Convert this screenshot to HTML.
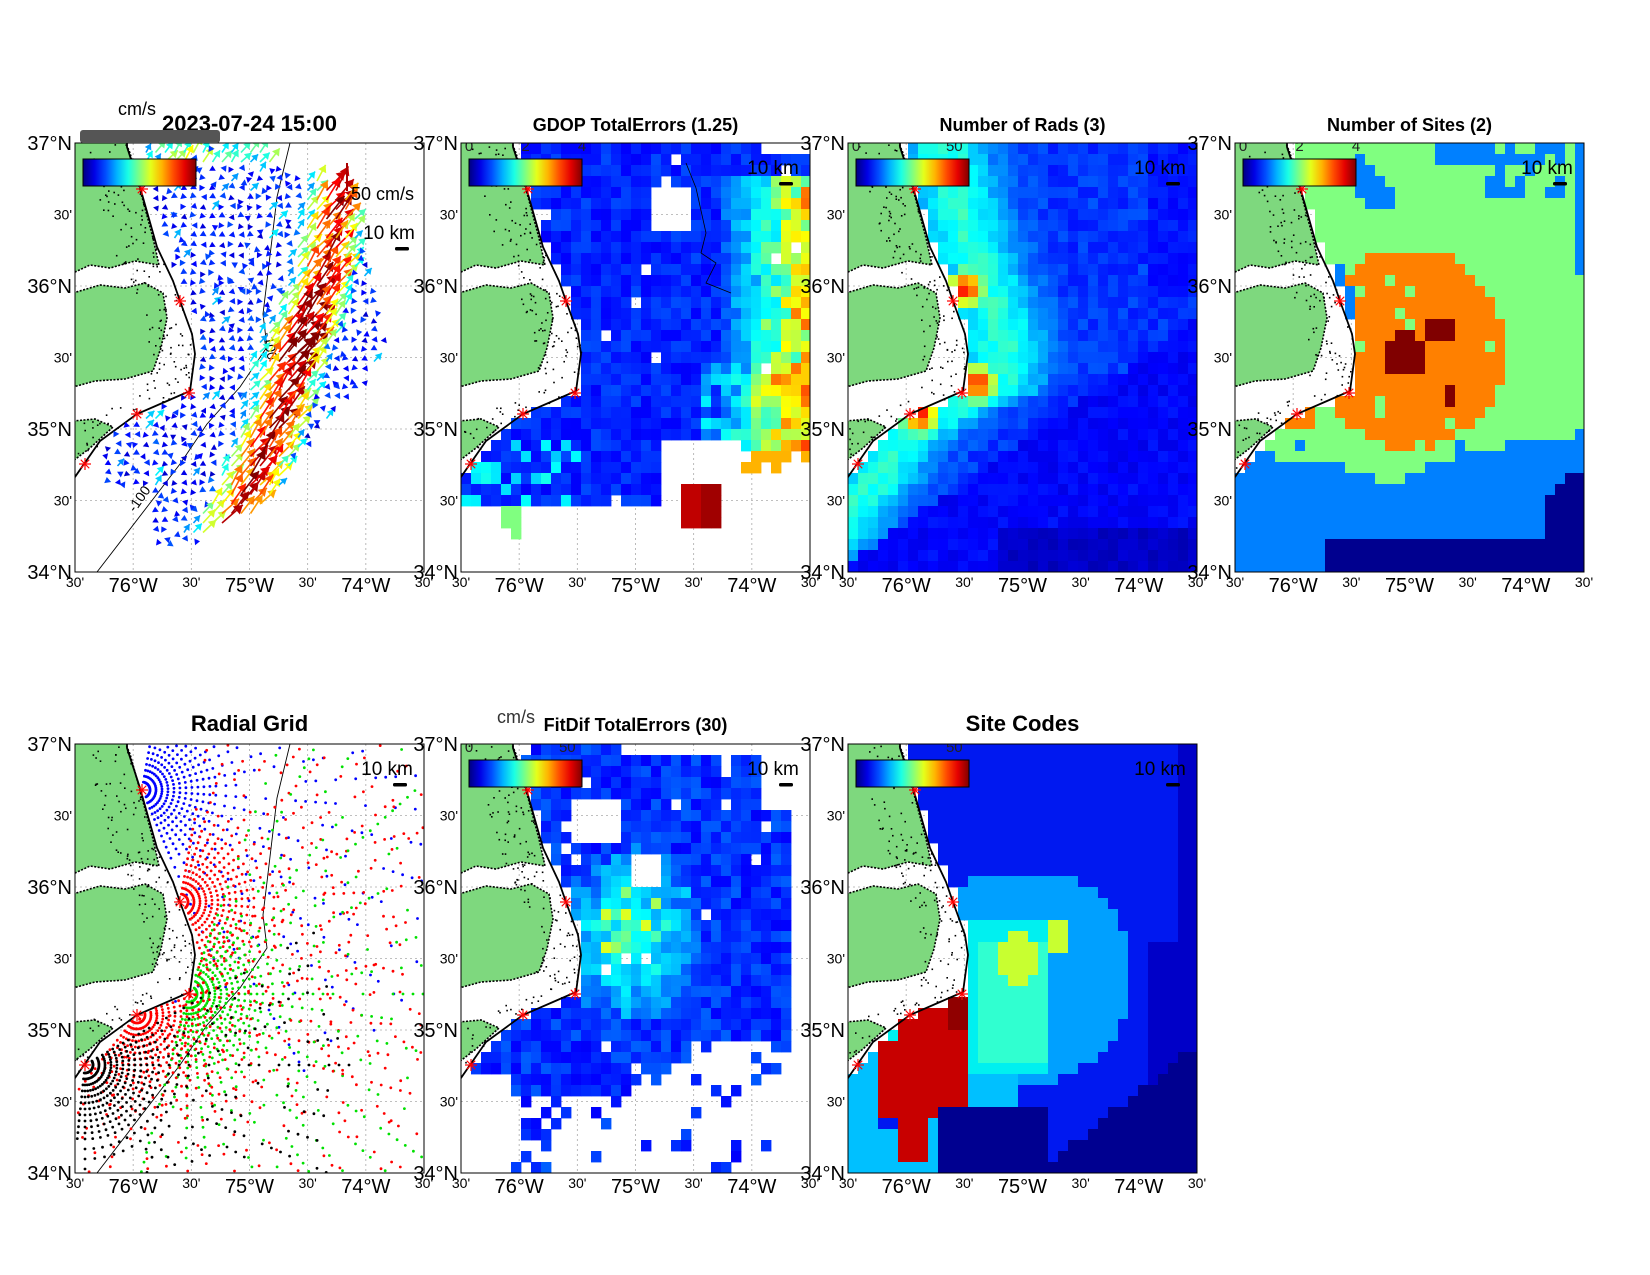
<!DOCTYPE html>
<html><head><meta charset="utf-8">
<style>
body{margin:0;background:#fff;}
svg{display:block;font-family:"Liberation Sans",sans-serif;}
</style></head>
<body>
<svg id="s" width="1650" height="1275" viewBox="0 0 1650 1275" xmlns="http://www.w3.org/2000/svg">
<rect width="1650" height="1275" fill="#fff"/>
<g id="root"></g>
</svg>
<script>
var W=349,H=429;
var seed=7;function rnd(){seed=(seed*16807)%2147483647;return seed/2147483647;}
function cl(v){return v<0?0:v>1?1:v;}
function jet(t){t=cl(t);var r=cl(1.5-Math.abs(4*t-3)),g=cl(1.5-Math.abs(4*t-2)),b=cl(1.5-Math.abs(4*t-1));
return 'rgb('+Math.round(r*255)+','+Math.round(g*255)+','+Math.round(b*255)+')';}
var coast=[[52,-10],[52,4],[65,44],[82,104],[98,138],[105,158],[117,191],[120,211],[115,248],[92,258],[62,271],[25,298],[0,334],[-40,390],[-80,450]];
function interp(pts,y){for(var i=0;i<pts.length-1;i++){var a=pts[i],b=pts[i+1];if(y>=a[1]&&y<=b[1]){return a[0]+(b[0]-a[0])*(y-a[1])/(b[1]-a[1]);}}return y<pts[0][1]?pts[0][0]:pts[pts.length-1][0];}
function cx(y){return interp(coast,y);}
function interpY(pts,x){for(var i=0;i<pts.length-1;i++){var a=pts[i],b=pts[i+1];if(x>=a[0]&&x<=b[0]){return a[1]+(b[1]-a[1])*(x-a[0])/(b[0]-a[0]);}}return x<pts[0][0]?pts[0][1]:pts[pts.length-1][1];}
var sites=[[67,46],[105,158],[114,250],[62,271],[10,321]];
var bathy=[[215,0],[202,54],[192,138],[188,171],[192,204],[165,244],[132,281],[105,321],[72,364],[22,429]];
function pl(p){return p.map(function(q){return q[0]+','+q[1];}).join(' ');}
function land(){
 var s='';
 var A=[[-2,-2],[50,-2],[55,10],[66,50],[78,95],[84,122],[60,118],[35,125],[15,122],[-2,130]];
 var B=[[-2,150],[25,142],[50,145],[70,140],[88,150],[92,175],[86,205],[78,228],[50,236],[20,238],[-2,244]];
 var C=[[-2,278],[20,276],[38,284],[15,305],[-2,318]];
 [A,B,C].forEach(function(P){s+='<polygon points="'+pl(P)+'" fill="#7ed87e" stroke="#000" stroke-width="1.6" stroke-dasharray="2 1.5"/>';});
 for(var i=0;i<180;i++){var y=rnd()*330,x=cx(y)-rnd()*45;if(x>0)s+='<rect x="'+x.toFixed(1)+'" y="'+y.toFixed(1)+'" width="1.6" height="1.6" fill="#000"/>';}
 s+='<polyline points="'+pl(coast)+'" fill="none" stroke="#000" stroke-width="1.8"/>';
 return s;
}
function star(x,y){var s='';for(var a=0;a<4;a++){var t=a*Math.PI/4;s+='<line x1="'+(x-6*Math.cos(t))+'" y1="'+(y-6*Math.sin(t))+'" x2="'+(x+6*Math.cos(t))+'" y2="'+(y+6*Math.sin(t))+'" stroke="#f00" stroke-width="1.2"/>';}return s;}
function sitesSvg(){return sites.map(function(p){return star(p[0],p[1]);}).join('');}
function grid(){var s='';for(var i=1;i<6;i++){var x=i*W/6;s+='<line x1="'+x+'" y1="0" x2="'+x+'" y2="'+H+'" stroke="#aaa" stroke-width="0.8" stroke-dasharray="2 3"/>';}
 for(var j=1;j<6;j++){var y=j*H/6;s+='<line x1="0" y1="'+y+'" x2="'+W+'" y2="'+y+'" stroke="#aaa" stroke-width="0.8" stroke-dasharray="2 3"/>';}return s;}
var cbid=0;
function cbar(labels){cbid++;var s='<defs><linearGradient id="g'+cbid+'">';for(var i=0;i<=10;i++)s+='<stop offset="'+(i/10)+'" stop-color="'+jet(i/10)+'"/>';
 s+='</linearGradient></defs><rect x="8" y="16" width="113" height="27" fill="url(#g'+cbid+')" stroke="#000" stroke-width="1"/>';
 (labels||[]).forEach(function(l){s+='<text x="'+(8+l[0]*113)+'" y="8" font-size="15" text-anchor="middle" fill="#222">'+l[1]+'</text>';});return s;}
function km(x,y){return '<text x="'+x+'" y="'+y+'" font-size="19" text-anchor="middle">10 km</text><rect x="'+(x+6)+'" y="'+(y+8)+'" width="14" height="3.5" rx="1.5" fill="#000"/>';}
function heat(fn){var s='';for(var i=0;i<35;i++)for(var j=0;j<39;j++){var x=i*10+5,y=j*11+5;var c=fn(x,y,i,j);if(c)s+='<rect x="'+(i*10)+'" y="'+(j*11)+'" width="10.4" height="11.4" fill="'+c+'"/>';}return s;}
function ocean(x,y){return x>cx(y)+4;}
function dseg(px,py,pts){var best=1e9;for(var i=0;i<pts.length-1;i++){var a=pts[i],b=pts[i+1];var dx=b[0]-a[0],dy=b[1]-a[1];var t=cl(((px-a[0])*dx+(py-a[1])*dy)/(dx*dx+dy*dy));var qx=a[0]+t*dx-px,qy=a[1]+t*dy-py;var d=Math.sqrt(qx*qx+qy*qy);if(d<best)best=d;}return best;}
function axes(L,T,title,tsize,ty){
 var s='';var lat=['37°N',"30'",'36°N',"30'",'35°N',"30'",'34°N'];
 for(var j=0;j<7;j++){var y=T+j*H/6;var big=lat[j].indexOf('N')>0;s+='<text x="'+(L-3)+'" y="'+(y+(big?7:5))+'" font-size="'+(big?20:14)+'" text-anchor="end">'+lat[j]+'</text>';}
 var lon=["30'",'76°W',"30'",'75°W',"30'",'74°W',"30'"];
 for(var i=0;i<7;i++){var x=L+i*W/6;var big=lon[i].indexOf('W')>0;s+='<text x="'+x+'" y="'+(T+H+(big?20:15))+'" font-size="'+(big?20:14)+'" text-anchor="middle">'+lon[i]+'</text>';}
 s+='<text x="'+(L+W/2)+'" y="'+ty+'" font-size="'+tsize+'" font-weight="bold" text-anchor="middle">'+title+'</text>';
 return s;}
var out='';
function panel(L,T,inner,title,tsize,ty){
 cbid++;var id='c'+cbid;
 out+='<clipPath id="'+id+'"><rect x="0" y="0" width="'+W+'" height="'+H+'"/></clipPath>';
 out+='<g transform="translate('+L+','+T+')"><g clip-path="url(#'+id+')">'+inner+'</g><rect x="0" y="0" width="'+W+'" height="'+H+'" fill="none" stroke="#000" stroke-width="1"/></g>';
 out+=axes(L,T,title,tsize,ty);
}
var cols=[75,461,848,1235],rows=[143,744];
// Panel 1 arrows
(function(){var s='';var rb=[[0,175],[20,200],[50,270],[100,290],[150,300],[200,310],[240,290],[280,250],[330,215],[370,180],[395,120]];
 var jetl=[[150,390],[175,340],[195,290],[215,215],[245,140],[262,50]];
 for(var x=-5;x<350;x+=9.5)for(var y=0;y<400;y+=9.5){
  if(!(x>cx(y)+8))continue;if(x>interp(rb.map(function(p){return[p[1],p[0]];}),y))continue;
  if(y>350&&x<80)continue; if(y>300&&x<30)continue;
  var d=dseg(x,y,jetl);var sp=0.9*Math.exp(-(d/30)*(d/30));
  var dc=Math.hypot(x-215,y-214);sp+=0.25*Math.exp(-dc/30);
  if(sp<0.15)sp=0.08+rnd()*0.14;
  if(y<25)sp=Math.max(sp,0.3+rnd()*0.2);
  if(sp>0.2)sp+=rnd()*0.3-0.15;
  var ang=sp>0.25?(-1.1+rnd()*0.4):(rnd()<0.7?-1.57+rnd()*1.2-0.6:rnd()*6.28);
  var len=3+sp*26;var c=jet(sp);
  var ex=x+len*Math.cos(ang),ey=y+len*Math.sin(ang);var hs=3+sp*2.5;
  var px=-Math.sin(ang),py=Math.cos(ang);
  if(sp>0.25)s+='<line x1="'+x.toFixed(1)+'" y1="'+y.toFixed(1)+'" x2="'+ex.toFixed(1)+'" y2="'+ey.toFixed(1)+'" stroke="'+c+'" stroke-width="1.6"/>';
  var bx=ex-hs*1.6*Math.cos(ang),by=ey-hs*1.6*Math.sin(ang);
  s+='<polygon points="'+ex.toFixed(1)+','+ey.toFixed(1)+' '+(bx+px*hs).toFixed(1)+','+(by+py*hs).toFixed(1)+' '+(bx-px*hs).toFixed(1)+','+(by-py*hs).toFixed(1)+'" fill="'+c+'"/>';
 }
 var inner=grid()+land()+'<polyline points="'+pl(bathy)+'" fill="none" stroke="#000" stroke-width="0.9"/><text x="188" y="190" font-size="14" transform="rotate(80 188 190)">-100</text><text x="60" y="370" font-size="14" transform="rotate(-55 60 370)">-100</text>'+s+sitesSvg()+cbar()+km(314,96)+'<text x="276" y="57" font-size="18">50 cm/s</text><line x1="272" y1="48" x2="272" y2="20" stroke="#a00" stroke-width="2"/>';
 panel(cols[0],rows[0],inner,'2023-07-24 15:00',22,131);
 out+='<text x="118" y="115" font-size="18">cm/s</text><rect x="80" y="130" width="140" height="13" rx="3" fill="#555"/>';
})();
// Panel 2 GDOP
(function(){var h=heat(function(x,y){
 if(!ocean(x,y))return null;
 if(x>220&&x<265&&y>335&&y<380&&!(x<232&&y<345))return (x>235&&y>345)?'#a00000':'#c00000';
 if(x>185&&x<228&&y>40&&y<85)return null;
 if(x<200&&y>360)return (x>40&&x<60&&y<400&&rnd()<0.7)?jet(0.5):null;
 if(x>=200&&y>300&&x<280)return null;
 if(x>=280&&y>310)return (y<330&&rnd()<0.5)?jet(0.7):null;
 if(x>300&&y<15)return null;
 if(rnd()<0.015)return null;
 var v=0.12+rnd()*0.08;
 if(x>255&&y>30&&y<310)v+=Math.max(0,(x-255)/95)*0.55*(0.6+rnd()*0.6);
 if(x>240&&y>220&&y<310)v+=0.2*rnd();
 if(y>300&&x<120&&rnd()<0.3)v+=0.2;
 return jet(v);});
 var inner=grid()+h+land()+sitesSvg()+cbar([[0,'0'],[0.5,'2'],[1,'4']])+km(312,31)+'<polyline points="225,20 235,45 245,90 240,110 255,120 245,140 270,150" fill="none" stroke="#000" stroke-width="0.8"/>';
 panel(cols[1],rows[0],inner,'GDOP TotalErrors (1.25)',18,131);})();
// Panel 3 Rads
(function(){var h=heat(function(x,y){
 if(!ocean(x,y))return null;
 var d=Math.abs((x-cx(y))-45+y*0.05);var v=0.14+0.24*Math.exp(-(d/45)*(d/45))+rnd()*0.07;
 var sp=[[118,145],[130,240],[72,272]];sp.forEach(function(p){var r=Math.hypot(x-p[0],y-p[1]);if(r<22)v=Math.max(v,0.95-r/40);});
 if(y>420-0.7*x||(y>330&&x>200))v=Math.min(v,0.1+rnd()*0.05);
 if(y>380&&x>150)v=0.05+rnd()*0.04;
 if(x>300&&y<150)v=0.12+rnd()*0.05;
 return jet(v);});
 var inner=grid()+h+land()+sitesSvg()+cbar([[0,'0'],[0.87,'50']])+km(312,31);
 panel(cols[2],rows[0],inner,'Number of Rads (3)',18,131);})();
// Panel 4 Sites
(function(){var C=['#00008f','#0080ff','#80ff80','#ff8000','#800000'];
 var h=heat(function(x,y){
 if(!ocean(x,y))return null;
 var k=2;
 var ox=(x-175)/95,oy=(y-205)/100; if(ox*ox+oy*oy<1&&rnd()>0.05)k=3;
 if(x>40&&x<85&&y>230&&y<290)k=3;
 if(Math.hypot(x-170,y-210)<22||Math.hypot(x-205,y-185)<14||Math.hypot(x-215,y-252)<8)k=4;
 var b=interpY([[0,305],[60,300],[120,318],[170,330],[220,300],[280,290],[349,280]],x);
 if(y>b+rnd()*20)k=1;
 if(y>360&&x>90&&x<200&&y>440-x*0.2)k=0;
 if(y>395&&x>90)k=0; if(x>310&&y>330)k=(y>300+(349-x)*1.5)?0:1;
 if(x>115&&x<160&&y>15&&y<65&&y>x-110&&y<x-70)k=1;
 if(x>200&&x<250&&y<20)k=1; if(x>250&&y<50&&x<330&&rnd()<0.5)k=1;
 if(x>335&&y<130)k=1;
 if(x<cx(y)+15&&y>120&&y<180)k=1;
 return C[k];});
 var inner=grid()+h+land()+sitesSvg()+cbar([[0,'0'],[0.5,'2'],[1,'4']])+km(312,31);
 panel(cols[3],rows[0],inner,'Number of Sites (2)',18,131);})();
// Panel 5 radial grid
(function(){var s='';var cfg=[[0,'#0000ff',-80,110],[1,'#ff0000',-80,110],[2,'#00e000',-70,110],[3,'#ff0000',-40,130],[4,'#000000',-30,100]];
 cfg.forEach(function(c){var p=sites[c[0]];for(var a=c[2];a<=c[3];a+=(c[0]==4?6:7)){var t=a*Math.PI/180;var rmax=(a>60?220:340)*(c[0]==4?0.8:1);
  for(var r=8;r<rmax;r+=(r<70?6:10)){var x=p[0]+r*Math.cos(t),y=p[1]+r*Math.sin(t);if(x<2||x>W||y<1||y>H)continue;if(x<cx(y)+3)continue;
  if(r>100&&rnd()<0.45)continue;
  s+='<circle cx="'+x.toFixed(1)+'" cy="'+y.toFixed(1)+'" r="1.4" fill="'+c[1]+'"/>';}}});
 var inner=grid()+land()+'<polyline points="'+pl(bathy)+'" fill="none" stroke="#000" stroke-width="0.9"/>'+s+sitesSvg()+km(312,31);
 panel(cols[0],rows[1],inner,'Radial Grid',22,731);})();
// Panel 6 FitDif
(function(){var h=heat(function(x,y){
 if(!ocean(x,y))return null;
 if(y<10&&(x<75||x>160))return null;
 if(x>300&&y<70)return null; if(x>110&&x<163&&y>55&&y<100)return null; if(x>170&&x<200&&y>110&&y<140)return null;
 if(x>330)return null; if(y>155&&x<75&&y<270)return null;
 var bot=interpY([[0,330],[60,355],[160,355],[200,330],[230,300],[300,300],[340,310]],x);
 if(y>bot){ if(rnd()<0.85)return null; }
 if(y>330&&x<50)return null;
 if(rnd()<0.02)return null;
 var v=0.12+rnd()*0.1;var r=Math.hypot((x-170)/70,(y-190)/90);if(r<1)v+=0.25*(1-r)+rnd()*0.1;
 if(r<0.6&&rnd()<0.15)v=0.5+rnd()*0.1;
 return jet(v);});
 var inner=grid()+h+land()+sitesSvg()+cbar([[0,'0'],[0.87,'50']])+km(312,31);
 panel(cols[1],rows[1],inner,'FitDif TotalErrors (30)',18,731);
 out+='<text x="497" y="723" font-size="18" fill="#333">cm/s</text>';})();
// Panel 7 Site codes
(function(){var h=heat(function(x,y){
 if(!ocean(x,y))return null;
 var c='#0018f0';
 if(x>330||(x>300&&y>200))c='#0000c8';
 var r=Math.hypot((x-175)/110,(y-230)/110); if(y>130&&r<1)c='#00a0ff';
 if(y>180&&y<330&&x<200&&x>cx(y))c='#00f0f0';
 if(y>200&&y<320&&x>130&&x<200)c='#30ffd0';
 if(Math.hypot(x-170,y-215)<25||(x>195&&x<220&&y>175&&y<210))c='#c8ff30';
 if(y>250&&y<370&&x>30+(y<300?20:0)&&x<120&&x>cx(y)-200)c='#c80000';
 if(y>250&&y<290&&x>95&&x<120)c='#900000';
 if(y>300&&x<30)c='#00c0ff';
 if(y>330&&x>=120&&x<170)c='#00c0ff';
 if(y>375&&x>=55&&x<95)c=(x<80&&y<420)?'#c80000':'#00c0ff';
 if(y>380&&x<50)c='#00c0ff';
 if(y>360&&x>=95&&x<200)c='#000090';
 if(y>300+(349-x)*0.8)c='#000090';
 return c;});
 var inner=grid()+h+land()+sitesSvg()+cbar([[0.87,'50']])+km(312,31);
 panel(cols[2],rows[1],inner,'Site Codes',22,731);})();
document.getElementById('root').innerHTML=out;
</script>
</body></html>
